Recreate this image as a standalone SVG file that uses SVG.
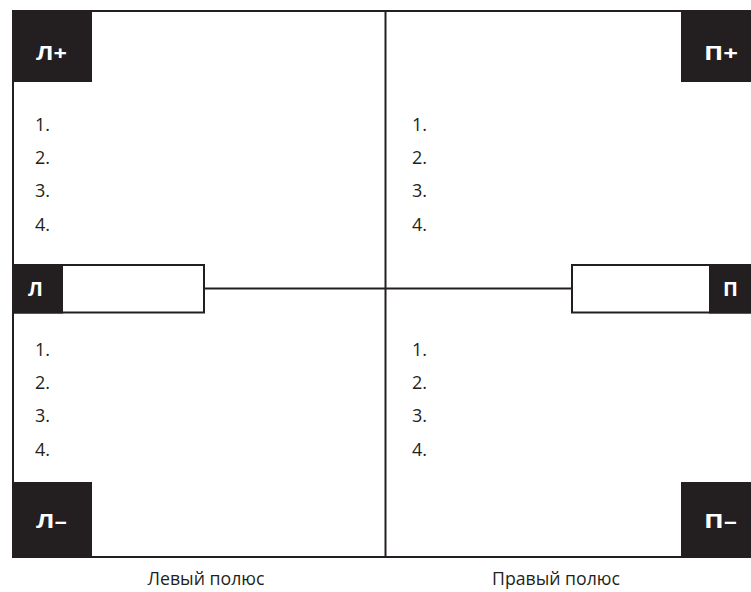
<svg xmlns="http://www.w3.org/2000/svg" width="751" height="592" viewBox="0 0 751 592">
<style>
.ln{stroke:#231f20;stroke-width:2;fill:none}
.blk{fill:#231f20}
.wt{fill:#fff;stroke:#231f20;stroke-width:2}
.tag{font-family:"Open Sans","DejaVu Sans",sans-serif;font-weight:bold;font-size:20px;fill:#fff}
.num{font-family:"Open Sans","Liberation Sans",sans-serif;font-size:18px;fill:#231f20}
.cap{font-family:"Open Sans","Liberation Sans",sans-serif;font-size:18px;fill:#231f20;text-anchor:middle}
</style>
<rect width="751" height="592" fill="#fff"/>
<g id="connectors">
<path class="ln" d="M13,11 H751 M13,11 V557 H751 M385.5,11 V557 M204,288.5 H572"/>
</g>
<g id="lplus"><rect class="blk" x="12" y="10" width="80" height="72"/><text class="tag" x="36" y="60" textLength="31" lengthAdjust="spacingAndGlyphs">Л+</text></g>
<g id="pplus"><rect class="blk" x="681" y="10" width="70" height="72"/><text class="tag" x="704" y="60" textLength="34" lengthAdjust="spacingAndGlyphs">П+</text></g>
<g id="lminus"><rect class="blk" x="12" y="482" width="80" height="76"/><text class="tag" x="36" y="528" textLength="31" lengthAdjust="spacingAndGlyphs">Л–</text></g>
<g id="pminus"><rect class="blk" x="681" y="482" width="70" height="76"/><text class="tag" x="704" y="528" textLength="33" lengthAdjust="spacingAndGlyphs">П–</text></g>
<g id="l"><rect class="wt" x="13" y="265" width="191" height="47.5"/><rect class="blk" x="12" y="264" width="51" height="49.5"/><text class="tag" x="28" y="296">Л</text></g>
<g id="p"><rect class="wt" x="572" y="265" width="180" height="47.5"/><rect class="blk" x="709" y="264" width="42" height="49.5"/><text class="tag" x="723" y="296">П</text></g>
<g id="list-tl" class="num"><text x="35" y="131">1.</text><text x="35" y="164">2.</text><text x="35" y="197">3.</text><text x="35" y="231">4.</text></g>
<g id="list-tr" class="num"><text x="412" y="131">1.</text><text x="412" y="164">2.</text><text x="412" y="197">3.</text><text x="412" y="231">4.</text></g>
<g id="list-bl" class="num"><text x="35" y="356">1.</text><text x="35" y="389">2.</text><text x="35" y="422">3.</text><text x="35" y="456">4.</text></g>
<g id="list-br" class="num"><text x="412" y="356">1.</text><text x="412" y="389">2.</text><text x="412" y="422">3.</text><text x="412" y="456">4.</text></g>
<g id="captions"><text class="cap" x="206" y="585" textLength="117" lengthAdjust="spacingAndGlyphs">Левый полюс</text><text class="cap" x="556" y="585" textLength="128" lengthAdjust="spacingAndGlyphs">Правый полюс</text></g>
</svg>
